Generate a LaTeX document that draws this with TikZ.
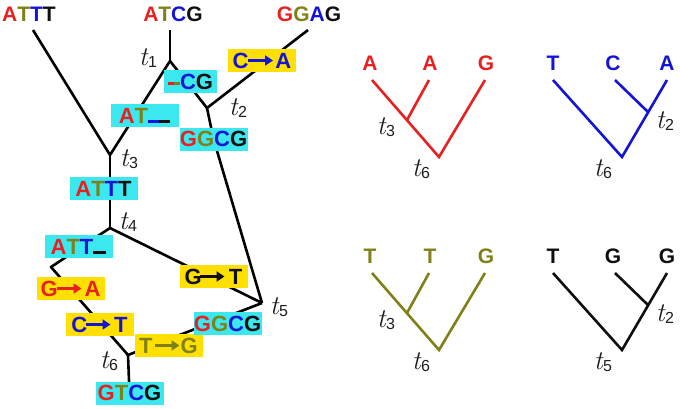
\documentclass[tikz,border=0pt]{standalone}
\usepackage{fontspec}
\setmainfont{Liberation Sans}
\newfontfamily\lmr{Latin Modern Roman}
\usetikzlibrary{arrows.meta,backgrounds}
\definecolor{cr}{RGB}{232,32,32}
\definecolor{co}{RGB}{128,128,24}
\definecolor{cb}{RGB}{20,20,215}
\definecolor{ck}{RGB}{15,15,15}
\definecolor{tc}{RGB}{30,30,30}
\definecolor{cyanbg}{RGB}{60,232,240}
\definecolor{yelbg}{RGB}{255,224,0}
\newcommand\sq[4]{\textcolor{cr}{#1}\textcolor{co}{#2}\textcolor{cb}{#3}\textcolor{ck}{#4}}
\newcommand\tl[1]{\textcolor{tc}{{\lmr\itshape\fontsize{27}{27}\selectfont t}\kern0.5pt{\fontsize{16}{16}\selectfont\raisebox{-1.5pt}{#1}}}}
\begin{document}
\begin{tikzpicture}[x=1pt,y=-1pt,
  ln/.style={line width=2.6pt, line join=round},
  lab/.style={font=\fontsize{21}{21}\selectfont\bfseries, inner sep=0pt},
  seqbox/.style={font=\fontsize{22}{22}\selectfont\bfseries, inner sep=0pt, minimum width=68pt, minimum height=23pt},
  cbox/.style={seqbox, fill=cyanbg},
  ybox/.style={seqbox, fill=yelbg},
  mut/.style={ybox, path picture={\draw[line width=2.6pt, -{Triangle[length=8pt,width=10pt]}, #1] ([xshift=-14pt]path picture bounding box.center) -- ([xshift=11pt]path picture bounding box.center);}},
  tlab/.style={inner sep=0pt},
  tr/.style={line width=2.6pt}
]
\useasboundingbox (0,0) rectangle (680,408);

% top sequences
\node[lab] (L1) at (29,14) {\sq ATTT};
\node[lab] (L2) at (173,14) {\sq ATCG};
\node[lab] (L3) at (309,14) {\sq GGAG};

\coordinate (e1) at (33,30);
\coordinate (e2) at (170,30);
\coordinate (e3) at (308,30);
\coordinate (j1) at (170,61);
\coordinate (j2) at (207,108);
\coordinate (j3) at (110,155);
\coordinate (j4) at (110,228);
\coordinate (j5) at (262,303);
\coordinate (j6) at (128,355);
\coordinate (k) at (51,267);

% boxes
\node[mut=cb, text=cb] (CA) at (262,60.5) {C\hspace{27pt}A};
\node[cbox, minimum width=53pt] (CG) at (190.5,81.5) {\textcolor{cr}{\rule[4pt]{6pt}{3pt}}\textcolor{co}{\rule[4pt]{6pt}{3pt}}\textcolor{cb}{C}\textcolor{ck}{G}};
\node[cbox] (AT) at (144.5,115.5) {\textcolor{cr}{A}\textcolor{co}{T}\textcolor{cb}{\rule{11pt}{3pt}}\textcolor{ck}{\rule{11pt}{3pt}}\hspace{12pt}};
\node[cbox] (GG1) at (213.5,139) {\sq GGCG};
\node[cbox] (ATTT) at (103.5,188.5) {\sq ATTT};
\node[cbox] (ATTu) at (78.5,246.5) {\textcolor{cr}{A}\textcolor{co}{T}\textcolor{cb}{T}\textcolor{ck}{\rule{13pt}{3pt}}};
\node[mut=ck, text=ck] (GT) at (213.5,276.5) {G\hspace{27pt}T};
\node[mut=cr, text=cr] (GA) at (70.5,288.5) {G\hspace{27pt}A};
\node[mut=cb, text=cb] (CT) at (99.5,324.5) {C\hspace{27pt}T};
\node[mut=co, text=co] (TG) at (168.5,345.5) {T\hspace{28pt}G};
\node[cbox] (GG2) at (227.5,323.5) {\sq GGCG};
\node[cbox] (GTCG) at (129.5,393) {\sq GTCG};

% connectors behind boxes
\begin{scope}[on background layer]
\draw[ln] (e1) -- (j3);
\draw[ln] (e2) -- (j1);
\draw[ln] (j1) -- (j3);
\draw[ln] (j1) -- (j2);
\draw[ln] (e3) -- (j2);
\draw[ln] (j2) -- (GG1.center) -- (j5);
\draw[ln] (j3) -- (j4);
\draw[ln] (j4) -- (k) -- (j6);
\draw[ln] (j4) -- (j5);
\draw[ln] (j6) -- (j5);
\draw[ln] (j6) -- (GTCG.center);
\end{scope}

% time labels
\node[tlab] (T1) at (148,58) {\tl1};
\node[tlab] (T2) at (238,108) {\tl2};
\node[tlab] (T3) at (129,159) {\tl3};
\node[tlab] (T4) at (128,222) {\tl4};
\node[tlab] (T5) at (279,307) {\tl5};
\node[tlab] (T6) at (109,361) {\tl6};

% right trees: tree 1 (red)
\node[lab, text=cr] (a1) at (370,63) {A};
\node[lab, text=cr] (a2) at (430,63) {A};
\node[lab, text=cr] (a3) at (486,63) {G};
\coordinate (a1b) at (372,80);
\coordinate (a2b) at (429,80);
\coordinate (a3b) at (485,80);
\coordinate (as) at (407,120);
\coordinate (ar) at (439,157);
\draw[tr, cr] (a1b) -- (ar) -- (a3b);
\draw[tr, cr] (a2b) -- (as);
\node[tlab] (at3) at (386,127) {\tl3};
\node[tlab] (at6) at (421,169) {\tl6};

% tree 2 (blue)
\node[lab, text=cb] (b1) at (553,63) {T};
\node[lab, text=cb] (b2) at (613,63) {C};
\node[lab, text=cb] (b3) at (667,63) {A};
\coordinate (b1b) at (553,80);
\coordinate (b2b) at (615,80);
\coordinate (b3b) at (667,80);
\coordinate (bs) at (648,112);
\coordinate (br) at (622,157);
\draw[tr, cb] (b1b) -- (br) -- (b3b);
\draw[tr, cb] (b2b) -- (bs);
\node[tlab] (bt2) at (665,121) {\tl2};
\node[tlab] (bt6) at (603,169) {\tl6};

% tree 3 (olive)
\node[lab, text=co] (c1) at (370,256) {T};
\node[lab, text=co] (c2) at (430,256) {T};
\node[lab, text=co] (c3) at (486,256) {G};
\coordinate (c1b) at (372,273);
\coordinate (c2b) at (429,273);
\coordinate (c3b) at (485,273);
\coordinate (cs) at (407,313);
\coordinate (cr0) at (439,350);
\draw[tr, co] (c1b) -- (cr0) -- (c3b);
\draw[tr, co] (c2b) -- (cs);
\node[tlab] (ct3) at (386,320) {\tl3};
\node[tlab] (ct6) at (421,362) {\tl6};

% tree 4 (black)
\node[lab, text=ck] (d1) at (553,256) {T};
\node[lab, text=ck] (d2) at (613,256) {G};
\node[lab, text=ck] (d3) at (667,256) {G};
\coordinate (d1b) at (553,273);
\coordinate (d2b) at (615,273);
\coordinate (d3b) at (667,273);
\coordinate (ds) at (648,305);
\coordinate (dr) at (622,350);
\draw[tr, ck] (d1b) -- (dr) -- (d3b);
\draw[tr, ck] (d2b) -- (ds);
\node[tlab] (dt2) at (665,314) {\tl2};
\node[tlab] (dt5) at (603,362) {\tl5};
\end{tikzpicture}
\end{document}
